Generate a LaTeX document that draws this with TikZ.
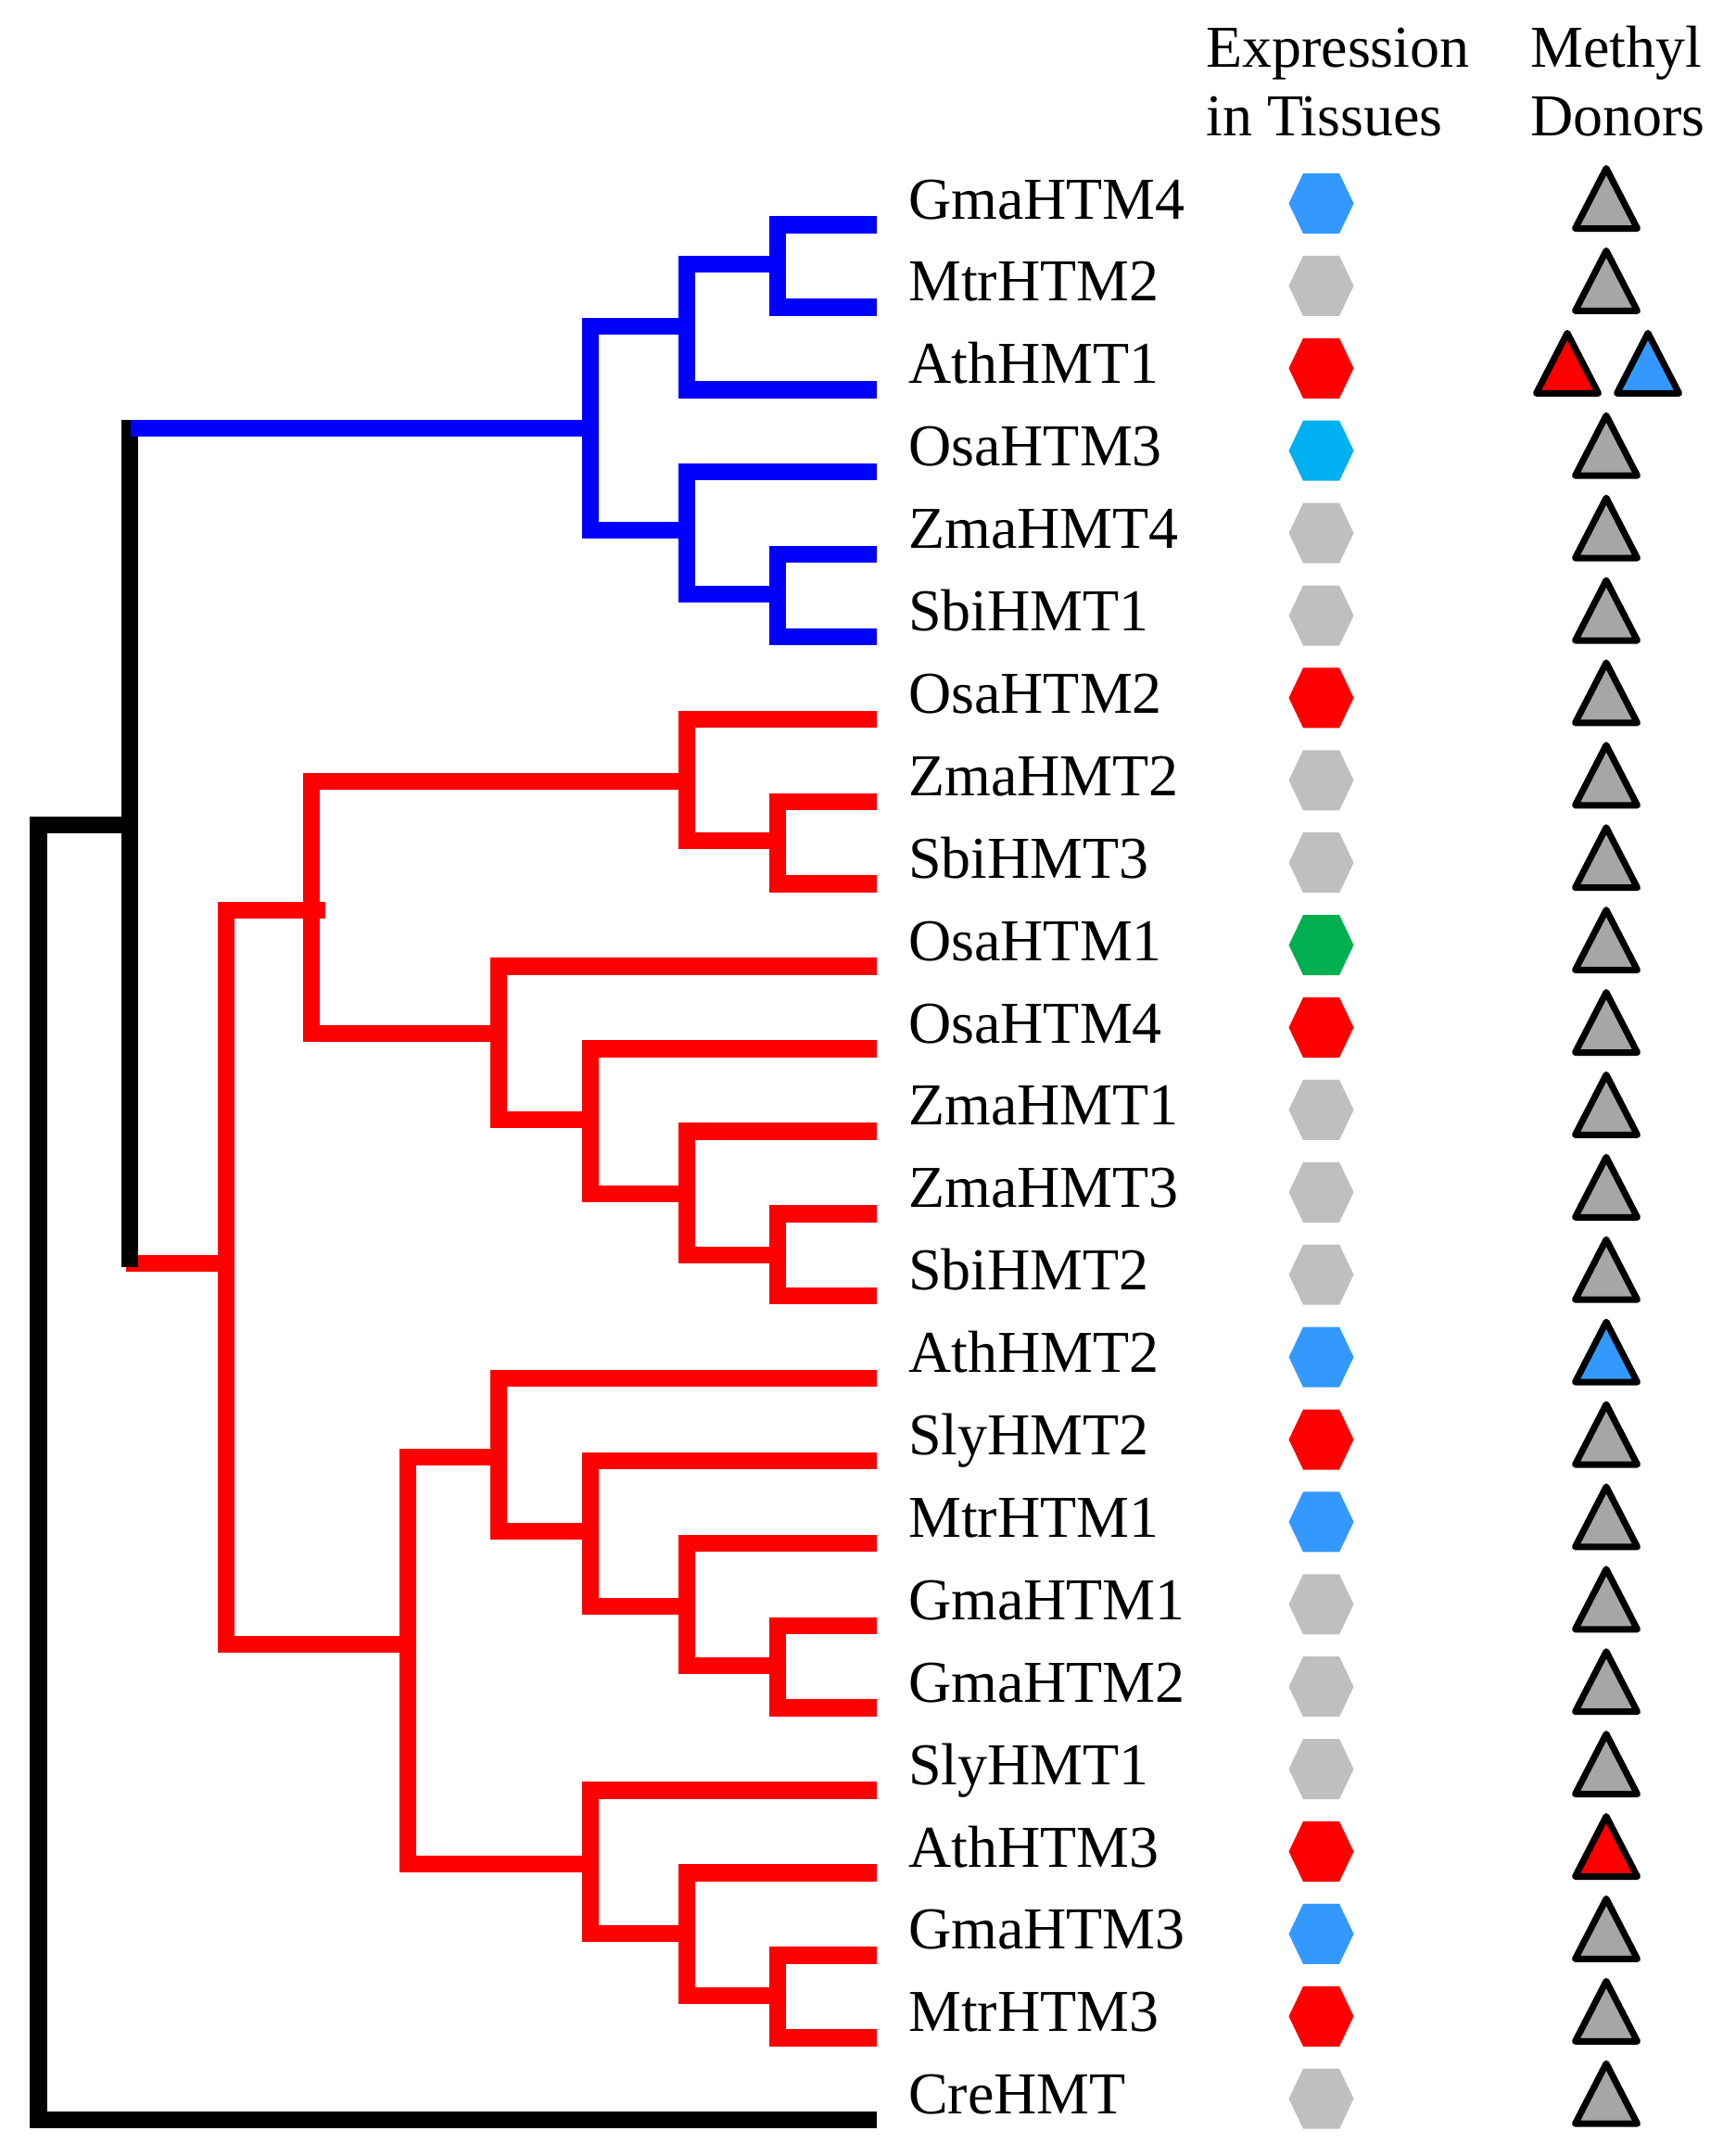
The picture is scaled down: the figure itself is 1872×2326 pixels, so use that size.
\documentclass[tikz,border=0pt]{standalone}
\usepackage{fontspec}
\setmainfont{Liberation Serif}
\definecolor{hblue}{RGB}{51,153,255}
\definecolor{hgray}{RGB}{191,191,191}
\definecolor{hcyan}{RGB}{0,176,240}
\definecolor{hgreen}{RGB}{0,176,80}
\definecolor{tgray}{RGB}{166,166,166}
\definecolor{tblue}{RGB}{51,153,255}
\definecolor{tred}{RGB}{255,0,0}
\definecolor{bblue}{RGB}{0,0,255}
\definecolor{rred}{RGB}{255,0,0}
\begin{document}
\begin{tikzpicture}[x=1pt,y=-1pt,
  branch/.style={line width=18.5pt, line join=miter, line cap=butt},
  lab/.style={anchor=base west, inner sep=0pt, font=\fontsize{64}{77}\selectfont},
  tri/.style={draw=black, line width=7pt, line join=round}]
\useasboundingbox (0,0) rectangle (1872,2326);
\fill[white] (0,0) rectangle (1872,2326);

% headers
\node[lab] (h1) at (1301,72) {Expression};
\node[lab] (h2) at (1301,146) {in Tissues};
\node[lab] (h3) at (1651,72) {Methyl};
\node[lab] (h4) at (1651,146) {Donors};

% rows
\foreach \lab/\hc/\tc [count=\i from 0] in {
  GmaHTM4/hblue/tgray, MtrHTM2/hgray/tgray, AthHMT1/rred/tgray,
  OsaHTM3/hcyan/tgray, ZmaHMT4/hgray/tgray, SbiHMT1/hgray/tgray,
  OsaHTM2/rred/tgray, ZmaHMT2/hgray/tgray, SbiHMT3/hgray/tgray,
  OsaHTM1/hgreen/tgray, OsaHTM4/rred/tgray, ZmaHMT1/hgray/tgray,
  ZmaHMT3/hgray/tgray, SbiHMT2/hgray/tgray, AthHMT2/hblue/tblue,
  SlyHMT2/rred/tgray, MtrHTM1/hblue/tgray, GmaHTM1/hgray/tgray,
  GmaHTM2/hgray/tgray, SlyHMT1/hgray/tgray, AthHTM3/rred/tred,
  GmaHTM3/hblue/tgray, MtrHTM3/rred/tgray, CreHMT/hgray/tgray}{
  \pgfmathsetmacro\yy{242.5+88.9*\i}
  \node[lab] (l\i) at (980,\yy-6.5) {\lab};
  \fill[\hc, shift={(1425.5,\yy-23)}] (-19.5,-32.5) -- (19.5,-32.5) -- (35,0)
      -- (19.5,32.5) -- (-19.5,32.5) -- (-35,0) -- cycle;
  \ifnum\i=2\relax
    \filldraw[tri, fill=tred] (1691,\yy-61) -- (1724.5,\yy+4) -- (1657.5,\yy+4) -- cycle;
    \filldraw[tri, fill=tblue] (1778,\yy-61) -- (1811.5,\yy+4) -- (1744.5,\yy+4) -- cycle;
  \else
    \filldraw[tri, fill=\tc] (1733,\yy-61) -- (1766.5,\yy+4) -- (1699.5,\yy+4) -- cycle;
  \fi
}

% red clade
\draw[branch, rred] (136,1363) -- (244,1363);
\draw[branch, rred] (351,982) -- (244,982) -- (244,1774) -- (440,1774);
\draw[branch, rred] (741,843) -- (336,843) -- (336,1115) -- (538,1115);
\draw[branch, rred] (946,775.9) -- (741,775.9) -- (741,907) -- (839,907);
\draw[branch, rred] (946,864.8) -- (839,864.8) -- (839,953.7) -- (946,953.7);
\draw[branch, rred] (946,1042.6) -- (538,1042.6) -- (538,1208) -- (637,1208);
\draw[branch, rred] (946,1131.5) -- (637,1131.5) -- (637,1288) -- (741,1288);
\draw[branch, rred] (946,1220.4) -- (741,1220.4) -- (741,1354) -- (839,1354);
\draw[branch, rred] (946,1309.3) -- (839,1309.3) -- (839,1398.2) -- (946,1398.2);
\draw[branch, rred] (538,1572) -- (440,1572) -- (440,2011) -- (637,2011);
\draw[branch, rred] (946,1487.1) -- (538,1487.1) -- (538,1652) -- (637,1652);
\draw[branch, rred] (946,1576.0) -- (637,1576.0) -- (637,1733) -- (741,1733);
\draw[branch, rred] (946,1664.9) -- (741,1664.9) -- (741,1797) -- (839,1797);
\draw[branch, rred] (946,1753.8) -- (839,1753.8) -- (839,1842.7) -- (946,1842.7);
\draw[branch, rred] (946,1931.6) -- (637,1931.6) -- (637,2086) -- (741,2086);
\draw[branch, rred] (946,2020.5) -- (741,2020.5) -- (741,2153) -- (839,2153);
\draw[branch, rred] (946,2109.4) -- (839,2109.4) -- (839,2198.3) -- (946,2198.3);

% black root
\draw[branch, black] (140,453) -- (140,1367);
\draw[branch, black] (140,890) -- (41.5,890) -- (41.5,2287.2) -- (946,2287.2);

% blue clade
\draw[branch, bblue] (141,462) -- (637,462);
\draw[branch, bblue] (741,352) -- (637,352) -- (637,572) -- (741,572);
\draw[branch, bblue] (839,285) -- (741,285) -- (741,420.3) -- (946,420.3);
\draw[branch, bblue] (946,242.5) -- (839,242.5) -- (839,331.4) -- (946,331.4);
\draw[branch, bblue] (946,509.2) -- (741,509.2) -- (741,641) -- (839,641);
\draw[branch, bblue] (946,598.1) -- (839,598.1) -- (839,687.0) -- (946,687.0);
\end{tikzpicture}
\end{document}
